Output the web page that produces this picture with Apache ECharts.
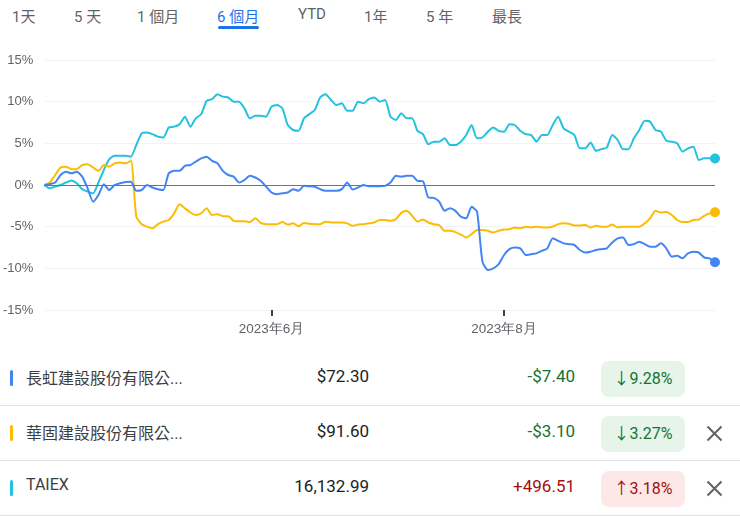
<!DOCTYPE html>
<html>
<head>
<meta charset="utf-8">
<script src="https://cdn.jsdelivr.net/npm/echarts@6/dist/echarts.min.js"></script>
<style>
  body { margin: 0; width: 740px; height: 516px; overflow: hidden; background: #fff;
         font-family: Roboto, "Noto Sans CJK TC", "Noto Sans", sans-serif; }
  .tab { position: absolute; top: 5px; font-size: 15px; color: #5f6368; white-space: nowrap; }
  .tab.active { color: #1a73e8; }
  #underline { position: absolute; left: 218px; top: 26px; width: 41px; height: 3px; border-radius: 2px; background: #1a73e8; }
  #chart { position: absolute; left: 0; top: 40px; width: 740px; height: 310px; }
  .row { position: absolute; left: 0; width: 740px; height: 54px; border-bottom: 1.5px solid #e3e3e3; }
  .row > * { position: absolute; }
  .bar { left: 10px; top: 19px; width: 3px; height: 16px; border-radius: 2px; }
  .name { left: 26px; top: 14px; font-size: 16px; color: #3c4043; white-space: nowrap; }
  .price { right: 371px; top: 15px; font-size: 17px; color: #202124; }
  .chg { right: 165px; top: 15px; font-size: 17px; }
  .badge { left: 601px; top: 10px; width: 84px; height: 36px; border-radius: 8px; font-size: 16px;
           line-height: 36px; text-align: center; }
  .close { left: 706px; top: 19px; }
</style>
</head>
<body>
<div id="tabs"></div>
<div id="underline"></div>
<div id="chart"></div>
<div id="table"></div>
<script>
// 期間選項
const tabLabels = ['1天', '5 天', '1 個月', '6 個月', 'YTD', '1年', '5 年', '最長'];
const tabLeft = [12, 74, 137, 217, 298, 364, 426, 492];
const activeTab = 3;

// 交易日 2023/4/4 ~ 2023/9/25 (週一至週五)
const startDate = '2023-04-04';
const endDate = '2023-09-25';
const monthTicks = ['2023-06-01', '2023-08-01'];

// 漲跌幅 (%)
const taiex = [
  0, -0.4, -0.2, 0.0, 0.3, 0.55, 0.2, -0.5, -0.8, -1.0,
  0.3, 1.8, 3.1, 3.5, 3.5, 3.5, 3.4, 4.8, 6.2, 6.3,
  6.1, 5.8, 5.7, 6.9, 7.0, 7.3, 8.2, 7.0, 8.0, 8.5,
  10.1, 10.3, 10.9, 10.6, 10.5, 10.0, 10.0, 9.2, 8.0, 8.3,
  8.3, 8.2, 9.4, 9.6, 9.2, 7.2, 6.6, 6.5, 8.0, 8.5,
  9.0, 10.5, 10.9, 10.2, 9.6, 9.8, 8.9, 8.9, 10.0, 9.8,
  10.3, 10.5, 10.0, 10.2, 8.2, 7.8, 8.6, 8.0, 8.0, 6.5,
  6.1, 4.9, 5.2, 5.2, 5.6, 4.8, 4.8, 5.2, 6.0, 7.2,
  5.6, 5.7, 6.4, 6.9, 6.5, 6.4, 7.3, 7.2, 6.5, 6.1,
  6.0, 5.2, 6.0, 6.0, 7.2, 8.2, 6.8, 6.4, 6.0, 4.4,
  4.4, 5.1, 4.1, 4.3, 4.5, 6.0, 5.4, 4.3, 4.3, 5.6,
  6.6, 7.7, 7.6, 6.6, 6.4, 5.3, 5.2, 5.0, 4.0, 4.4,
  4.6, 3.0, 3.2, 3.2, 3.18
];
const huaku = [
  0, 0.3, 1.2, 2.1, 2.2, 1.9, 1.9, 2.4, 2.5, 2.1,
  1.7, 2.4, 2.2, 2.6, 2.7, 2.6, 2.9, -3.8, -4.7, -5.0,
  -5.2, -4.7, -4.4, -4.2, -3.4, -2.3, -2.8, -3.3, -3.6, -3.4,
  -2.8, -3.6, -3.5, -3.75, -3.75, -4.3, -4.35, -4.35, -4.45, -4.0,
  -4.55, -4.7, -4.7, -4.7, -4.45, -4.75, -4.6, -4.95, -4.55, -4.65,
  -4.7, -4.7, -4.4, -4.5, -4.5, -4.5, -4.6, -4.9, -4.75, -4.7,
  -4.6, -4.5, -4.2, -4.2, -4.3, -4.1, -3.35, -3.1, -3.7, -4.4,
  -4.15, -4.5, -4.7, -4.8, -5.5, -5.5, -5.65, -5.95, -6.3, -5.9,
  -5.4, -5.4, -5.5, -5.7, -5.5, -5.35, -5.3, -5.1, -5.2, -5.0,
  -5.1, -5.0, -5.1, -5.1, -5.0, -4.7, -4.6, -4.65, -4.85, -4.85,
  -4.8, -5.1, -4.9, -5.0, -5.0, -4.75, -5.1, -5.0, -5.0, -5.0,
  -5.0, -4.6, -4.0, -3.1, -3.3, -3.25, -3.6, -4.2, -4.45, -4.45,
  -4.2, -4.15, -3.7, -3.4, -3.27
];
const changhong = [
  0, 0.1, 0.3, 1.2, 1.6, 1.4, 1.6, 1.0, -0.4, -2.0,
  -1.2, 0.1, -0.6, 0.0, 0.2, 0.35, 0.4, -0.7, -0.6, 0.0,
  -0.3, -0.5, -0.6, 1.4, 1.7, 1.7, 2.3, 2.4, 2.8, 3.2,
  3.4, 2.9, 2.6, 1.7, 1.2, 1.0, 0.3, 0.6, 1.1, 0.9,
  0.5, -0.2, -0.9, -1.1, -1.0, -0.9, -0.5, -0.7, -0.1, -0.15,
  -0.2, -0.5, -0.7, -0.7, -0.7, -0.5, 0.3, -0.55, -0.3, 0.0,
  -0.15, -0.15, -0.15, -0.1, 0.3, 1.1, 1.0, 1.1, 1.1, 0.5,
  0.45, -1.5, -1.55, -2.0, -3.1, -2.8, -3.1, -3.8, -4.0, -2.6,
  -3.2, -9.2, -10.2, -10.0, -9.5, -8.4, -7.7, -7.5, -7.6, -8.4,
  -8.3, -8.2, -7.9, -7.6, -6.4, -6.7, -7.0, -7.1, -7.2, -7.8,
  -8.1, -8.0, -7.8, -7.7, -7.6, -6.9, -6.4, -6.3, -7.2, -7.1,
  -6.8, -7.1, -7.4, -7.4, -7.0, -7.6, -8.6, -8.5, -8.8, -8.2,
  -8.0, -8.1, -8.7, -8.8, -9.28
];

// 下方列表
const names = ['長虹建設股份有限公...', '華固建設股份有限公...', 'TAIEX'];
const colors = ['#4285f4', '#fbbc04', '#24c1e0'];
const prices = ['$72.30', '$91.60', '16,132.99'];
const changes = ['-$7.40', '-$3.10', '+496.51'];
const pcts = ['9.28%', '3.27%', '3.18%'];
const ups = [false, false, true];
const closable = [false, true, true];

// 產生交易日
const dates = [];
for (let d = new Date(startDate + 'T00:00:00Z'); d <= new Date(endDate + 'T00:00:00Z'); d.setUTCDate(d.getUTCDate() + 1)) {
  const wd = d.getUTCDay();
  if (wd !== 0 && wd !== 6) dates.push(d.toISOString().slice(0, 10));
}

// tabs
const tabsEl = document.getElementById('tabs');
tabLabels.forEach((t, i) => {
  const s = document.createElement('span');
  s.className = 'tab' + (i === activeTab ? ' active' : '');
  s.style.left = tabLeft[i] + 'px';
  s.textContent = t;
  tabsEl.appendChild(s);
});

// table
const tableEl = document.getElementById('table');
names.forEach((n, i) => {
  const row = document.createElement('div');
  row.className = 'row';
  row.style.top = (351 + i * 55) + 'px';
  const green = '#137333', red = '#a50e0e';
  const c = ups[i] ? red : green;
  row.innerHTML =
    '<div class="bar" style="background:' + colors[i] + '"></div>' +
    '<div class="name">' + n + '</div>' +
    '<div class="price">' + prices[i] + '</div>' +
    '<div class="chg" style="color:' + c + '">' + changes[i] + '</div>' +
    '<div class="badge" style="color:' + c + ';background:' + (ups[i] ? '#fce8e6' : '#e6f4ea') + '">' +
      (ups[i] ? '↑' : '↓') + pcts[i] + '</div>' +
    (closable[i] ? '<svg class="close" width="17" height="17" viewBox="0 0 17 17"><path d="M1.5 1.5L15.5 15.5M15.5 1.5L1.5 15.5" stroke="#5f6368" stroke-width="2"/></svg>' : '');
  tableEl.appendChild(row);
});

// chart
const chart = echarts.init(document.getElementById('chart'));
const showMonth = (idx, val) => monthTicks.includes(val);
const endDot = (v, p) => (p.dataIndex === dates.length - 1 ? 10 : 0);
const mkSeries = (name, data, color) => ({
  name, type: 'line', data, color,
  smooth: 0.2,
  symbol: 'circle', symbolSize: endDot, showSymbol: true, showAllSymbol: true,
  lineStyle: { width: 2, color },
  itemStyle: { color },
  emphasis: { disabled: true }
});

const seriesList = [
  mkSeries('TAIEX', taiex, colors[2]),
  mkSeries('華固建設', huaku, colors[1]),
  mkSeries('長虹建設', changhong, colors[0])
];
seriesList[0].markLine = {
  silent: true, symbol: ['none', 'none'], label: { show: false },
  lineStyle: { color: '#70757a', width: 1, type: 'solid' },
  data: [{ yAxis: 0 }]
};
seriesList[0].z = 1;

chart.setOption({
  animation: false,
  grid: { left: 42, right: 25, top: 20, bottom: 40 },
  xAxis: {
    type: 'category', data: dates, boundaryGap: false,
    axisLine: { show: false, onZero: false },
    axisTick: { show: true, interval: showMonth, length: 6, lineStyle: { color: '#3c4043', width: 2 } },
    axisLabel: {
      interval: showMonth, margin: 12, color: '#5f6368', fontSize: 13.5,
      formatter: v => v.slice(0, 4) + '年' + parseInt(v.slice(5, 7), 10) + '月'
    },
    splitLine: { show: false }
  },
  yAxis: {
    type: 'value', min: -15, max: 15, interval: 5,
    axisLine: { show: false }, axisTick: { show: false },
    axisLabel: { formatter: '{value}%', color: '#5f6368', fontSize: 13, margin: 11 },
    splitLine: { lineStyle: { color: '#f1f3f4' } }
  },
  series: seriesList
});
</script>
</body>
</html>
